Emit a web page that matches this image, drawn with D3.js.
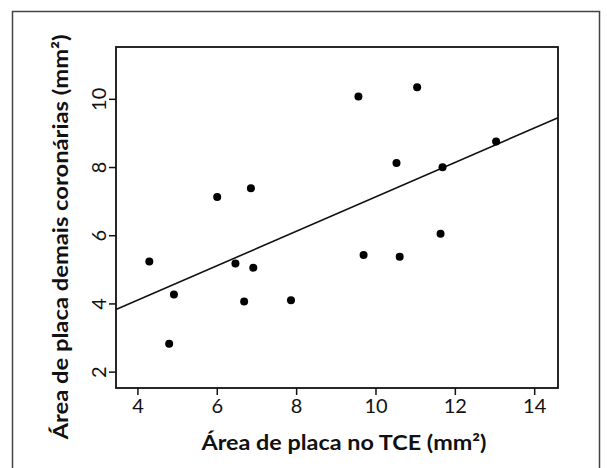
<!DOCTYPE html>
<html>
<head>
<meta charset="utf-8">
<script src="https://cdn.jsdelivr.net/npm/d3@7"></script>
<style>
  body { margin: 0; background: #fff; }
  svg { display: block; }
</style>
</head>
<body>
<div id="chart-area"></div>
<script>
// Data
var tceArea = [4.30, 4.80, 4.92, 6.01, 6.47, 6.69, 6.86, 6.92, 7.87, 9.57, 9.70, 10.53, 10.61, 11.05, 11.64, 11.69, 13.04];
var otherArea = [5.23, 2.82, 4.26, 7.12, 5.17, 4.06, 7.38, 5.05, 4.09, 10.07, 5.42, 8.12, 5.37, 10.34, 6.04, 7.99, 8.75];
var xTicks = [4, 6, 8, 10, 12, 14];
var yTicks = [2, 4, 6, 8, 10];
var xTitle = "Área de placa no TCE (mm²)";
var yTitle = "Área de placa demais coronárias (mm²)";

var W = 607, H = 468;
var margin = { left: 116, right: 49, top: 47, bottom: 80 },
    width = W - margin.left - margin.right,
    height = H - margin.top - margin.bottom;

var svg = d3.select("#chart-area").append("svg")
    .attr("width", W)
    .attr("height", H);

// outer figure frame (open at the bottom)
svg.append("path")
    .attr("d", "M12.5," + H + "V11.5H599.5V" + H)
    .attr("fill", "none")
    .attr("stroke", "#444")
    .attr("stroke-width", 1.5);

var g = svg.append("g")
    .attr("transform", "translate(" + margin.left + "," + margin.top + ")");

// Scales
var x = d3.scaleLinear().domain([3.46, 14.6]).range([0, width]);
var y = d3.scaleLinear().domain([1.52, 11.52]).range([height, 0]);

var tickFont = "Lato, 'Open Sans', sans-serif";

// X axis
var xAxis = g.append("g")
    .attr("transform", "translate(0," + height + ")")
    .call(d3.axisBottom(x).tickValues(xTicks).tickSize(7).tickPadding(4).tickFormat(d3.format("d")));
xAxis.select(".domain").remove();
xAxis.selectAll("line").attr("stroke", "#111").attr("stroke-width", 1.5);
xAxis.selectAll("text")
    .attr("fill", "#111")
    .style("font-family", tickFont)
    .style("font-size", "20px");

// Y axis, labels rotated
var yAxis = g.append("g")
    .call(d3.axisLeft(y).tickValues(yTicks).tickSize(7).tickFormat(d3.format("d")));
yAxis.select(".domain").remove();
yAxis.selectAll("line").attr("stroke", "#111").attr("stroke-width", 1.5);
yAxis.selectAll("text")
    .attr("x", null).attr("dy", null)
    .attr("transform", "translate(-10,0) rotate(-90)")
    .attr("text-anchor", "middle")
    .attr("fill", "#111")
    .style("font-family", tickFont)
    .style("font-size", "20px");

// plot box
g.append("rect")
    .attr("width", width)
    .attr("height", height)
    .attr("fill", "none")
    .attr("stroke", "#111")
    .attr("stroke-width", 1.8);

// least squares fit line
var mx = d3.mean(tceArea), my = d3.mean(otherArea);
var sxy = d3.sum(tceArea, function(d, i) { return (d - mx) * (otherArea[i] - my); });
var sxx = d3.sum(tceArea, function(d) { return (d - mx) * (d - mx); });
var slope = sxy / sxx, intercept = my - slope * mx;
var fitX = x.domain();

var line = d3.line()
    .x(function(d) { return x(d); })
    .y(function(d) { return y(intercept + slope * d); });

g.append("path")
    .attr("d", line(fitX))
    .attr("fill", "none")
    .attr("stroke", "#111")
    .attr("stroke-width", 1.6);

// points
g.selectAll("circle")
    .data(tceArea)
    .enter().append("circle")
    .attr("cx", function(d) { return x(d); })
    .attr("cy", function(d, i) { return y(otherArea[i]); })
    .attr("r", 4)
    .attr("fill", "#000");

// Axis titles
var titleFont = "Lato, 'Open Sans', sans-serif";
svg.append("text")
    .attr("x", 344)
    .attr("y", 450)
    .attr("text-anchor", "middle")
    .attr("textLength", 285)
    .attr("lengthAdjust", "spacingAndGlyphs")
    .style("font-family", titleFont)
    .style("font-weight", "bold")
    .style("font-size", "21px")
    .attr("fill", "#111")
    .text(xTitle);

svg.append("text")
    .attr("transform", "translate(68,237) rotate(-90)")
    .attr("text-anchor", "middle")
    .attr("textLength", 405)
    .attr("lengthAdjust", "spacingAndGlyphs")
    .style("font-family", titleFont)
    .style("font-weight", "bold")
    .style("font-size", "21px")
    .attr("fill", "#111")
    .text(yTitle);
</script>
</body>
</html>
